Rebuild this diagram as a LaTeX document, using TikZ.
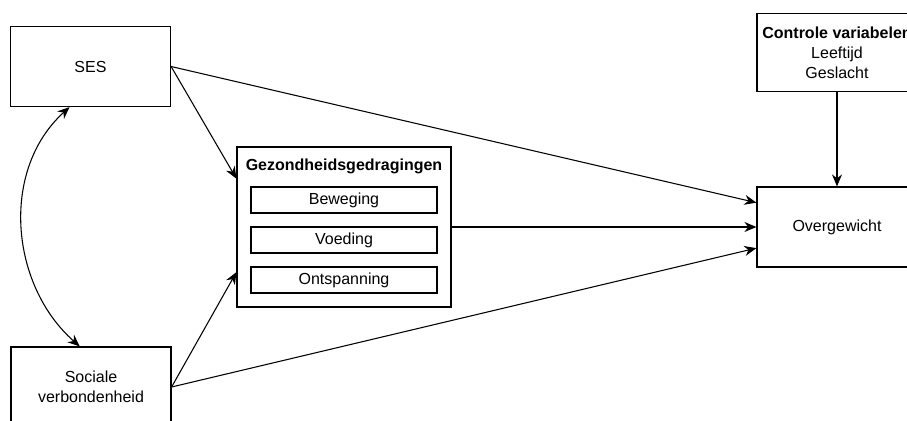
\documentclass[tikz,border=0pt]{standalone}
\usepackage{fontspec}
\setmainfont{Liberation Sans}
\usetikzlibrary{arrows.meta,calc}
\tikzset{
  blok/.style={draw,line width=0.9pt,minimum width=120pt,minimum height=60pt,align=center,font=\fontsize{12}{15}\selectfont},
  subblok/.style={draw,line width=0.9pt,minimum width=139.5pt,minimum height=19.5pt,font=\fontsize{12}{15}\selectfont},
  pijl/.style={->,line width=0.8pt}
}
\begin{document}
\begin{tikzpicture}[x=0.75pt,y=-0.75pt,>={Stealth[length=9pt,width=7.5pt]}]
	\useasboundingbox (0,0) rectangle (907,421);
	\clip (0,0) rectangle (907,421);
	% linkerkant
	\node[blok] (ses) at (90.5,66.5) {SES};
	\node[blok] (soc) at (91,387) {Sociale\\verbondenheid};
	% mediatoren
	\node[blok,minimum width=160.5pt,minimum height=120pt] (gz) at (344,227) {};
	\node[font=\fontsize{12}{15}\selectfont\bfseries] (gztitel) at (344,166) {Gezondheidsgedragingen};
	\node[subblok] (bew) at (344,200) {Beweging};
	\node[subblok] (voe) at (344,240) {Voeding};
	\node[subblok] (ont) at (344,280) {Ontspanning};
	% rechterkant
	\node[blok] (ovg) at (837,227) {Overgewicht};
	\node[blok,minimum height=59pt] (ctrl) at (837,52.5) {\textbf{Controle variabelen}\\Leeftijd\\Geslacht};
	% pijlen
	\draw[pijl] (ses.east) -- ($(ovg.north west)!0.2!(ovg.south west)$);
	\draw[pijl] (ses.east) -- ($(gz.north west)!0.2!(gz.south west)$);
	\draw[pijl] (soc.east) -- ($(gz.north west)!0.78!(gz.south west)$);
	\draw[pijl] (soc.east) -- ($(ovg.north west)!0.76!(ovg.south west)$);
	\draw[pijl] (gz.east) -- (ovg.west);
	\draw[pijl] (ctrl.south) -- (ovg.north);
	\draw[<->,line width=0.8pt] ($(ses.south west)!0.37!(ses.south east)$) .. controls (0,170) and (10,285) .. ($(soc.north west)!0.43!(soc.north east)$);
\end{tikzpicture}
\end{document}
